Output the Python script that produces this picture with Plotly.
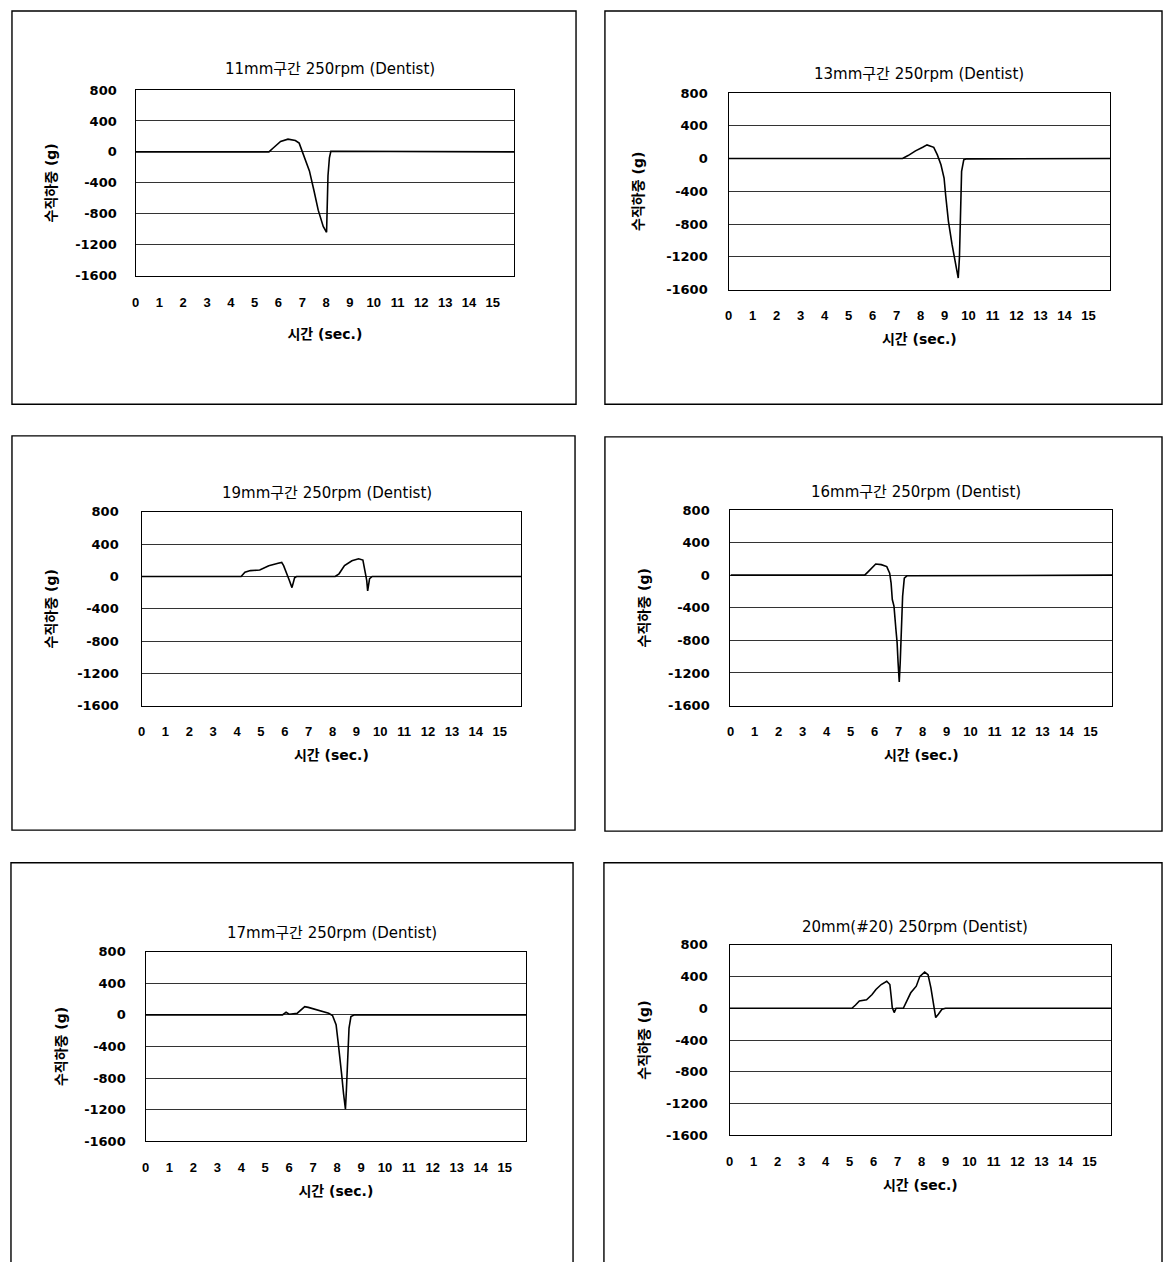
import plotly.graph_objects as go

W, H = 1166, 1262

titles = [
    "11mm구간 250rpm (Dentist)",
    "13mm구간 250rpm (Dentist)",
    "19mm구간 250rpm (Dentist)",
    "16mm구간 250rpm (Dentist)",
    "17mm구간 250rpm (Dentist)",
    "20mm(#20) 250rpm (Dentist)",
]
x_title = "시간 (sec.)"
y_title = "수직하중 (g)"

x_ticks = list(range(0, 16))
x_ticktext = [str(v) for v in x_ticks]
y_ticks = [800, 400, 0, -400, -800, -1200, -1600]
y_ticktext = ["800", "400", "0", "-400", "-800", "-1200", "-1600"]

# ---- data (time s, load g) ----
t_11 = [0, 5.6, 5.78, 6.09, 6.4, 6.71, 6.87, 6.99, 7.1, 7.3, 7.49, 7.67, 7.88, 8.02, 8.08, 8.14, 8.2, 15.9]
f_11 = [0, 0, 51, 135, 165, 148, 114, 8, -97, -245, -498, -752, -963, -1039, -308, -76, 8, 0]

t_13 = [0, 7.25, 7.48, 7.79, 8.09, 8.27, 8.55, 8.7, 8.85, 8.98, 9.05, 9.16, 9.31, 9.47, 9.57, 9.62, 9.68, 9.71, 9.8, 9.92, 15.9]
f_13 = [0, 0, 36, 93, 137, 166, 137, 44, -77, -238, -461, -764, -1046, -1289, -1459, -1208, -602, -158, -16, -4, 0]

t_19 = [0, 4.17, 4.33, 4.56, 4.95, 5.33, 5.72, 5.87, 5.95, 6.1, 6.18, 6.3, 6.41, 6.49,
        8.11, 8.27, 8.5, 8.81, 9.09, 9.27, 9.35, 9.43, 9.47, 9.55, 9.66, 15.9]
f_19 = [0, 0, 53, 73, 81, 134, 163, 175, 134, 33, -41, -138, -16, 0,
        0, 33, 134, 195, 220, 203, 73, -49, -179, -28, 0, 0]

t_16 = [0, 5.59, 5.74, 6.05, 6.28, 6.51, 6.63, 6.69, 6.74, 6.81, 6.89, 6.94, 6.98, 7.03, 7.07, 7.12, 7.17, 7.24, 7.35, 15.9]
f_16 = [0, 0, 44, 137, 129, 105, 24, -97, -299, -380, -663, -824, -1067, -1309, -1067, -622, -259, -36, -8, 0]

t_17 = [0, 5.72, 5.87, 6.0, 6.34, 6.49, 6.65, 6.8, 7.11, 7.42, 7.65, 7.81, 7.96, 8.04, 8.11, 8.19, 8.27, 8.35, 8.39, 8.44, 8.5, 8.58, 8.73, 15.9]
f_17 = [0, 0, 33, 8, 21, 62, 104, 95, 70, 41, 21, -8, -124, -331, -497, -746, -995, -1194, -953, -497, -166, -21, 0, 0]

t_20 = [0, 5.1, 5.25, 5.41, 5.71, 5.94, 6.1, 6.32, 6.55, 6.68, 6.74, 6.78, 6.86, 6.94,
        7.24, 7.4, 7.55, 7.78, 7.93, 8.13, 8.27, 8.39, 8.47, 8.54, 8.59, 8.7, 8.85, 9.0, 15.9]
f_20 = [0, 0, 41, 91, 108, 174, 237, 299, 340, 299, 133, 8, -54, 0,
        0, 112, 195, 278, 402, 456, 423, 257, 91, -54, -116, -75, -12, 0, 0]

series = [(t_11, f_11), (t_13, f_13), (t_19, f_19), (t_16, f_16), (t_17, f_17), (t_20, f_20)]

# ---- layout in pixels ----
boxes = [(8, 4, 574, 402), (603, 4, 1162, 402),
         (8, 434, 573, 833), (603, 435, 1162, 834),
         (7, 866, 571, 1272), (602, 866, 1162, 1272)]
plots = [(132, 84, 512, 272), (727, 87, 1110, 286),
         (138, 511, 519, 707), (729, 509, 1112, 707),
         (142, 956, 524, 1148), (728, 949, 1111, 1142)]
title_pos = [(327, 63), (918, 68), (324, 492), (915, 491), (329, 937), (914, 931)]
xtitle_standoff = [20, 11, 11, 11, 12, 11]
ytick_standoff = [15, 17, 19, 17, 16, 18]
ytitle_standoff = [15, 19, 17, 15, 14, 13]

KR = "DejaVu Sans, Noto Sans CJK KR"
NUM = "Liberation Sans, Arial, Noto Sans CJK KR"

fig = go.Figure()
shapes = []
annotations = []
layout_axes = {}

for i, ((t, f), (l, tp, r, b)) in enumerate(zip(series, plots)):
    n = i + 1
    xa = "x" if n == 1 else f"x{n}"
    ya = "y" if n == 1 else f"y{n}"
    fig.add_trace(go.Scatter(x=t, y=f, mode="lines", xaxis=xa, yaxis=ya,
                             line=dict(color="black", width=1.6), showlegend=False,
                             hoverinfo="skip"))
    xkey = "xaxis" if n == 1 else f"xaxis{n}"
    ykey = "yaxis" if n == 1 else f"yaxis{n}"
    layout_axes[xkey] = dict(
        domain=[l / W, r / W], anchor=ya, range=[0, 15.9],
        tickvals=x_ticks, ticktext=x_ticktext, showgrid=False, zeroline=False,
        showline=True, mirror=True, linecolor="black", linewidth=1.4,
        ticks="", ticklabelstandoff=14,
        tickfont=dict(family=NUM, size=13, color="black", weight="bold"),
        title=dict(text=x_title, standoff=xtitle_standoff[i],
                   font=dict(family=KR, size=14, color="black", weight="bold")),
    )
    layout_axes[ykey] = dict(
        domain=[1 - b / H, 1 - tp / H], anchor=xa, range=[-1600, 800],
        tickvals=y_ticks, ticktext=y_ticktext, showgrid=True, gridcolor="#333333",
        gridwidth=1, zeroline=False, showline=True, mirror=True,
        linecolor="black", linewidth=1.4, ticks="",
        ticklabelstandoff=ytick_standoff[i],
        tickfont=dict(family=KR, size=13, color="black", weight="bold"),
        title=dict(text=y_title, standoff=ytitle_standoff[i],
                   font=dict(family=KR, size=14, color="black", weight="bold")),
    )
    bx0, by0, bx1, by1 = boxes[i]
    shapes.append(dict(type="rect", xref="paper", yref="paper",
                       x0=bx0 / W, x1=bx1 / W, y0=1 - by1 / H, y1=1 - by0 / H,
                       line=dict(color="black", width=1.4), layer="below"))
    tx, ty = title_pos[i]
    annotations.append(dict(text=titles[i], xref="paper", yref="paper",
                            x=tx / W, y=1 - ty / H, showarrow=False,
                            xanchor="center", yanchor="middle",
                            font=dict(family=KR, size=15, color="black")))

fig.update_layout(
    width=W, height=H, margin=dict(l=0, r=0, t=0, b=0),
    paper_bgcolor="white", plot_bgcolor="white",
    shapes=shapes, annotations=annotations, **layout_axes,
)

fig.write_html("out.html")
